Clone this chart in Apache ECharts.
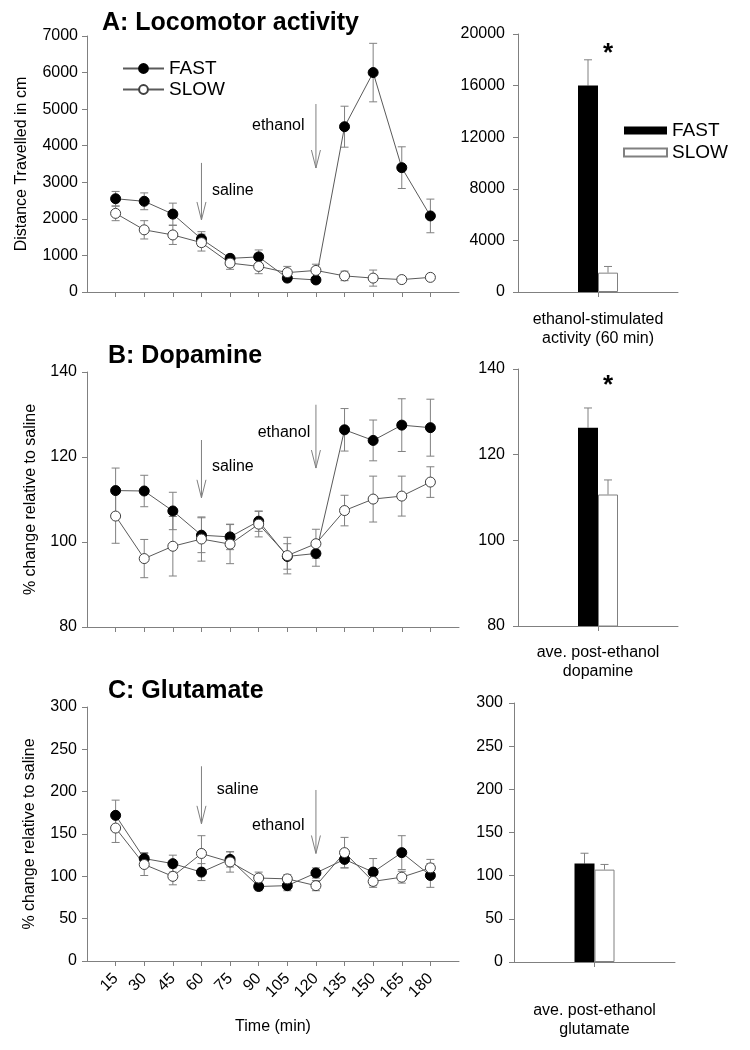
<!DOCTYPE html>
<html>
<head>
<meta charset="utf-8">
<script src="https://cdn.jsdelivr.net/npm/echarts@6/dist/echarts.min.js"></script>
<style>
  html, body { margin: 0; padding: 0; background: #fff; }
  #main { width: 750px; height: 1050px; }
</style>
</head>
<body>
<div id="main"></div>
<script>
// time points (min)
const times = [15, 30, 45, 60, 75, 90, 105, 120, 135, 150, 165, 180];

// A: locomotor activity
const locoFast = [2550, 2480, 2130, 1450, 920, 960, 380, 330, 4520, 6000, 3400, 2080];
const locoFastErr = [200, 230, 300, 200, 100, 190, 100, 80, 560, 800, 570, 460];
const locoSlow = [2150, 1700, 1560, 1350, 790, 700, 530, 590, 440, 380, 340, 400];
const locoSlowErr = [200, 250, 260, 230, 170, 200, 170, 170, 130, 220, 80, 80];

// B: dopamine
const daFast = [112.1, 112.0, 107.3, 101.6, 101.2, 104.9, 96.6, 97.3, 126.4, 123.9, 127.5, 126.9];
const daFastErr = [5.3, 3.7, 4.4, 4.1, 3.0, 2.4, 3.0, 3.0, 5.0, 4.8, 6.2, 6.7];
const daSlow = [106.1, 96.1, 99.0, 100.7, 99.5, 104.2, 96.8, 99.6, 107.4, 110.1, 110.8, 114.1];
const daSlowErr = [6.4, 4.5, 7.0, 5.2, 4.6, 3.0, 4.3, 3.4, 3.6, 5.4, 4.7, 3.6];

// C: glutamate
const gluFast = [172, 121, 115, 105, 120, 88, 89, 104, 120, 105, 128, 101];
const gluFastErr = [18, 7, 10, 10, 9, 5, 6, 6, 10, 16, 20, 14];
const gluSlow = [157, 114, 100, 127, 117, 98, 97, 89, 128, 94, 99, 110];
const gluSlowErr = [17, 13, 10, 21, 12, 7, 5, 6, 18, 7, 7, 10];

// summary bars: [FAST, SLOW]
const barCatA = ['ethanol-stimulated\nactivity (60 min)'];
const barCatB = ['ave. post-ethanol\ndopamine'];
const barCatC = ['ave. post-ethanol\nglutamate'];
const locoBar = [16000, 1500];
const locoBarErr = [2000, 480];
const daBar = [126.3, 110.7];
const daBarErr = [4.6, 3.4];
const gluBar = [114, 107];
const gluBarErr = [12, 6];

// significance stars (value where the * sits)
const starA = [18500];
const starB = [136];

// arrows: [time, from, to]; labels: [text, time, value, align]
const locoArrows = [[60, 3530, 1970], [120, 5140, 3390]];
const locoNotes = [['saline', 65.5, 2760, 'left'], ['ethanol', 114, 4540, 'right']];
const daArrows = [[60, 124, 110.4], [120, 132.3, 117.4]];
const daNotes = [['saline', 65.5, 117.7, 'left'], ['ethanol', 117, 125.7, 'right']];
const gluArrows = [[60, 230, 162], [120, 202, 127]];
const gluNotes = [['saline', 68, 203, 'left'], ['ethanol', 114, 160, 'right']];

const FONT = '"Liberation Sans", Arial, sans-serif';
const AXIS = '#808080';
const LINE = '#5a5a5a';

const chart = echarts.init(document.getElementById('main'));

function errRender(params, api) {
  const x = api.value(0), y = api.value(1), e = api.value(2);
  const top = api.coord([x, y + e]);
  const bot = api.coord([x, y - e]);
  const w = 4;
  const st = { stroke: AXIS, lineWidth: 1 };
  return {
    type: 'group',
    children: [
      { type: 'line', shape: { x1: top[0], y1: top[1], x2: bot[0], y2: bot[1] }, style: st },
      { type: 'line', shape: { x1: top[0] - w, y1: top[1], x2: top[0] + w, y2: top[1] }, style: st },
      { type: 'line', shape: { x1: bot[0] - w, y1: bot[1], x2: bot[0] + w, y2: bot[1] }, style: st }
    ]
  };
}

function barErrRender(params, api) {
  const y = api.value(1), e = api.value(2), k = params.dataIndex;
  const base = api.coord([0, y]);
  const top = api.coord([0, y + e]);
  const off = k === 0 ? -10 : 10;
  const x = base[0] + off;
  const st = { stroke: AXIS, lineWidth: 1 };
  return {
    type: 'group',
    children: [
      { type: 'line', shape: { x1: x, y1: base[1], x2: x, y2: top[1] }, style: st },
      { type: 'line', shape: { x1: x - 4, y1: top[1], x2: x + 4, y2: top[1] }, style: st }
    ]
  };
}

function arrowRender(params, api) {
  const p1 = api.coord([api.value(0), api.value(1)]);
  const p2 = api.coord([api.value(0), api.value(2)]);
  const st = { stroke: AXIS, lineWidth: 1, fill: null };
  return {
    type: 'group',
    children: [
      { type: 'line', shape: { x1: p1[0], y1: p1[1], x2: p2[0], y2: p2[1] }, style: st },
      { type: 'polyline', shape: { points: [[p2[0] - 4.5, p2[1] - 18], [p2[0], p2[1]], [p2[0] + 4.5, p2[1] - 18]] }, style: st }
    ]
  };
}

function noteRender(params, api) {
  const p = api.coord([api.value(1), api.value(2)]);
  return {
    type: 'text',
    x: p[0], y: p[1],
    style: {
      text: api.value(0),
      fill: '#000',
      font: '16px ' + FONT,
      align: api.value(3),
      verticalAlign: 'middle'
    }
  };
}

function starRender(params, api) {
  const p = api.coord([0, api.value(1)]);
  return {
    type: 'text',
    x: p[0] + 10, y: p[1],
    style: { text: '*', fill: '#000', font: 'bold 26px ' + FONT, align: 'center', verticalAlign: 'middle' }
  };
}

const pair = (xs, ys) => xs.map((t, i) => [t, ys[i]]);
const triple = (xs, ys, es) => xs.map((t, i) => [t, ys[i], es[i]]);
const plain = v => String(v);

function lineX(gridIndex, showLabels) {
  return {
    type: 'value', gridIndex: gridIndex, min: 0, max: 195, interval: 15,
    splitLine: { show: false },
    axisLine: { lineStyle: { color: AXIS, width: 1 } },
    axisTick: { show: true, length: 5, customValues: times, lineStyle: { color: AXIS } },
    axisLabel: showLabels
      ? { show: true, customValues: times, rotate: 45, margin: 15, color: '#000', fontSize: 16, fontFamily: FONT, formatter: plain }
      : { show: false },
    name: showLabels ? 'Time (min)' : '',
    nameLocation: 'middle', nameGap: 58, nameMoveOverlap: false,
    nameTextStyle: { color: '#000', fontSize: 16, fontFamily: FONT }
  };
}

function barX(gridIndex, cats, margin) {
  return {
    type: 'category', gridIndex: gridIndex, data: cats,
    axisLine: { lineStyle: { color: AXIS, width: 1 } },
    axisTick: { show: true, alignWithLabel: true, length: 5, lineStyle: { color: AXIS } },
    axisLabel: { margin: margin, color: '#000', fontSize: 16, fontFamily: FONT, lineHeight: 19 }
  };
}

function valY(gridIndex, min, max, interval, name, nameGap, margin) {
  return {
    type: 'value', gridIndex: gridIndex, min: min, max: max, interval: interval,
    splitLine: { show: false },
    axisLine: { show: true, lineStyle: { color: AXIS, width: 1 } },
    axisTick: { show: true, length: 5, lineStyle: { color: AXIS } },
    axisLabel: { margin: margin, color: '#000', fontSize: 16, fontFamily: FONT, formatter: plain },
    name: name, nameLocation: 'middle', nameGap: nameGap, nameMoveOverlap: false,
    nameTextStyle: { color: '#000', fontSize: 16, fontFamily: FONT }
  };
}

function lineSeries(name, idx, xs, ys, fast) {
  return {
    name: name, type: 'line', xAxisIndex: idx, yAxisIndex: idx, z: 5,
    data: pair(xs, ys), symbol: 'circle', symbolSize: 10,
    lineStyle: { color: LINE, width: 1 },
    itemStyle: fast ? { color: '#000', borderColor: '#000', borderWidth: 1 }
                    : { color: '#fff', borderColor: '#404040', borderWidth: 1 },
    emphasis: { disabled: true }, animation: false
  };
}

function errSeries(idx, xs, ys, es) {
  return {
    type: 'custom', xAxisIndex: idx, yAxisIndex: idx, z: 3,
    data: triple(xs, ys, es), renderItem: errRender, silent: true, animation: false
  };
}

function barSeries(name, idx, vals, fast) {
  return {
    name: name, type: 'bar', xAxisIndex: idx, yAxisIndex: idx, z: 4,
    data: vals, barWidth: 20, barGap: '0%',
    itemStyle: fast ? { color: '#000', borderColor: '#000', borderWidth: 0 }
                    : { color: '#fff', borderColor: AXIS, borderWidth: 1 },
    emphasis: { disabled: true }, animation: false
  };
}

function barErrSeries(idx, vals, errs) {
  return {
    type: 'custom', xAxisIndex: idx, yAxisIndex: idx, z: 3,
    data: vals.map((v, i) => [0, v, errs[i]]), renderItem: barErrRender, silent: true, animation: false
  };
}

function arrowSeries(idx, arrows, notes) {
  return [
    { type: 'custom', xAxisIndex: idx, yAxisIndex: idx, z: 6, data: arrows, renderItem: arrowRender, silent: true, animation: false },
    { type: 'custom', xAxisIndex: idx, yAxisIndex: idx, z: 6, data: notes, renderItem: noteRender, silent: true, animation: false,
      dimensions: [{ name: 't', type: 'ordinal' }, 'x', 'y', { name: 'a', type: 'ordinal' }], encode: { x: 1, y: 2 } }
  ];
}

function starSeries(idx, vals) {
  return { type: 'custom', xAxisIndex: idx, yAxisIndex: idx, z: 6, data: vals.map(v => [0, v]), renderItem: starRender, silent: true, animation: false };
}

const titleStyle = { color: '#000', fontSize: 25, fontWeight: 'bold', fontFamily: FONT };

const option = {
  backgroundColor: '#fff',
  animation: false,
  title: [
    { text: 'A: Locomotor activity', left: 102, top: 11, padding: 0, textStyle: titleStyle },
    { text: 'B: Dopamine', left: 108, top: 344, padding: 0, textStyle: titleStyle },
    { text: 'C: Glutamate', left: 108, top: 679, padding: 0, textStyle: titleStyle }
  ],
  legend: [
    {
      data: ['FAST', 'SLOW'], orient: 'vertical', left: 122, top: 59, padding: 0,
      itemWidth: 41, itemHeight: 11, itemGap: 2, itemTextGap: 11,
      textStyle: { color: '#000', fontSize: 19, fontFamily: FONT }, selectedMode: false
    },
    {
      data: ['FAST bar', 'SLOW bar'], orient: 'vertical', left: 623, top: 121, padding: 0,
      icon: 'rect', itemWidth: 43, itemHeight: 8, itemGap: 3, itemTextGap: 10,
      formatter: n => n.replace(' bar', ''),
      textStyle: { color: '#000', fontSize: 19, fontFamily: FONT }, selectedMode: false
    }
  ],
  grid: [
    { left: 87, top: 36, width: 372, height: 256, outerBoundsMode: 'none' },
    { left: 518, top: 34, width: 160, height: 258, outerBoundsMode: 'none' },
    { left: 87, top: 372, width: 372, height: 255, outerBoundsMode: 'none' },
    { left: 518, top: 369, width: 160, height: 257, outerBoundsMode: 'none' },
    { left: 87, top: 707, width: 372, height: 254, outerBoundsMode: 'none' },
    { left: 514, top: 703, width: 161, height: 259, outerBoundsMode: 'none' }
  ],
  xAxis: [
    lineX(0, false),
    barX(1, barCatA, 18),
    lineX(2, false),
    barX(3, barCatB, 17),
    lineX(4, true),
    barX(5, barCatC, 39)
  ],
  yAxis: [
    valY(0, 0, 7000, 1000, 'Distance Travelled in cm', 57, 9),
    valY(1, 0, 20000, 4000, '', 0, 13),
    valY(2, 80, 140, 20, '% change relative to saline', 48, 10),
    valY(3, 80, 140, 20, '', 0, 13),
    valY(4, 0, 300, 50, '% change relative to saline', 49, 10),
    valY(5, 0, 300, 50, '', 0, 11)
  ],
  series: [
    errSeries(0, times, locoFast, locoFastErr),
    errSeries(0, times, locoSlow, locoSlowErr),
    lineSeries('FAST', 0, times, locoFast, true),
    lineSeries('SLOW', 0, times, locoSlow, false),
    ...arrowSeries(0, locoArrows, locoNotes),

    barSeries('FAST bar', 1, [locoBar[0]], true),
    barSeries('SLOW bar', 1, [locoBar[1]], false),
    barErrSeries(1, locoBar, locoBarErr),
    starSeries(1, starA),

    errSeries(2, times, daFast, daFastErr),
    errSeries(2, times, daSlow, daSlowErr),
    lineSeries('FAST', 2, times, daFast, true),
    lineSeries('SLOW', 2, times, daSlow, false),
    ...arrowSeries(2, daArrows, daNotes),

    barSeries('FAST bar', 3, [daBar[0]], true),
    barSeries('SLOW bar', 3, [daBar[1]], false),
    barErrSeries(3, daBar, daBarErr),
    starSeries(3, starB),

    errSeries(4, times, gluFast, gluFastErr),
    errSeries(4, times, gluSlow, gluSlowErr),
    lineSeries('FAST', 4, times, gluFast, true),
    lineSeries('SLOW', 4, times, gluSlow, false),
    ...arrowSeries(4, gluArrows, gluNotes),

    barSeries('FAST bar', 5, [gluBar[0]], true),
    barSeries('SLOW bar', 5, [gluBar[1]], false),
    barErrSeries(5, gluBar, gluBarErr)
  ]
};

chart.setOption(option);
</script>
</body>
</html>
